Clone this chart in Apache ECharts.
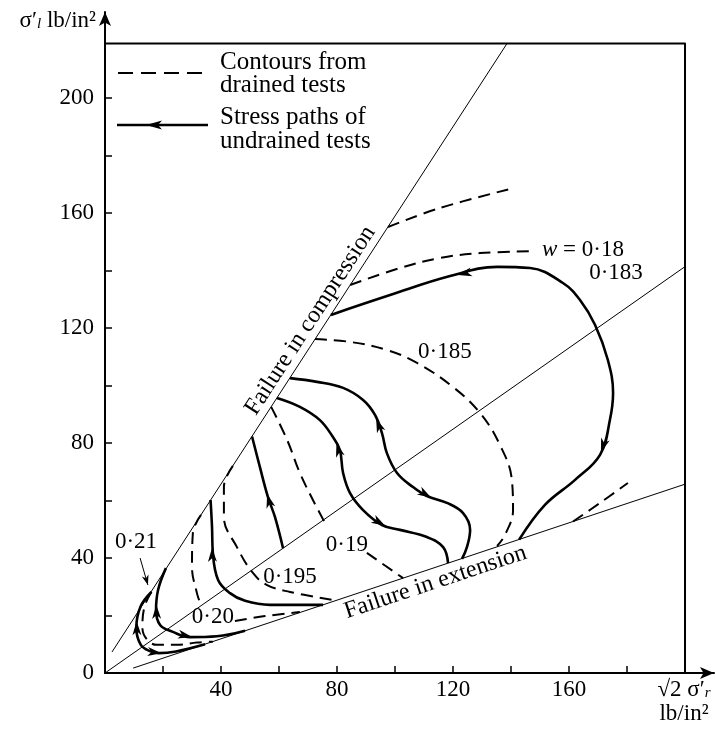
<!DOCTYPE html>
<html><head><meta charset="utf-8">
<script src="https://cdn.jsdelivr.net/npm/echarts@6.0.0/dist/echarts.min.js"></script>
<style>html,body{margin:0;padding:0;background:#fff}#c{width:715px;height:731px}</style>
</head><body><div id="c"></div>
<script>
const FONT = '"Liberation Serif","DejaVu Serif",serif';
// axis ticks and labels
const xTickValues = [20,40,60,80,100,120,140,160,180,200];
const xLabelValues = [40,80,120,160];
const yTickValues = [20,40,60,80,100,120,140,160,180,200];
const yLabelValues = [0,40,80,120,160,200];
// frame and failure / isotropic lines
const frameLine = [[0,219],[200,219],[200,0]];
const compressionLine = [[2.4,7.3],[138.6,219]];
const isotropicLine = [[0,0],[200,141.4]];
const extensionLine = [[9.7,1.7],[200,65.7]];
// dashed contours from drained tests
const contourTop = [[97.6,155.2],[115.5,161.8],[139.7,168.4]];
const contour018 = [[84.5,135.0],[101.7,140.9],[115.5,144.4],[129.3,146.1],[147.6,146.8]];
const contourRight = [[161.4,52.7],[170.7,59.2],[180.3,66.1]];
const contour0185 = [[72.4,116.2],[84.5,115.2],[97.2,112.4],[107.6,107.9],[120.0,99.5],[129.3,90.5],[136.2,79.3],[140.3,67.2],[140.7,56.7],[137.9,48.0],[135.2,44.2]];
const contour019a = [[57.3,92.6],[62.8,81.1],[67.2,69.6],[71.7,60.2],[76.6,50.8]];
const contour019b = [[90.3,41.8],[102.8,33.0]];
const contour0195 = [[44.1,72.1],[41.0,64.7],[41.0,54.3],[45.5,43.8],[51.0,34.8],[55.9,30.6],[63.8,28.2],[78.6,25.4]];
const contour020a = [[33.1,55.0],[30.3,48.7],[30.0,36.9],[31.7,27.8],[32.8,24.4]];
const contour020b = [[44.8,18.1],[55.2,19.8],[67.2,21.2]];
const contour021 = [[16.0,28.2],[13.6,23.0],[12.9,15.7],[14.6,11.5],[17.9,9.8],[24.8,9.8],[31.7,10.6],[37.2,10.9]];
// solid stress paths of undrained tests
const path0183 = [[77.9,124.6],[98.3,131.5],[119.0,138.1],[135.2,141.3],[146.6,140.9],[157.9,135.7],[163.8,129.8],[169.0,121.1],[173.4,108.9],[175.2,97.4],[174.1,88.0],[170.7,75.9],[162.1,67.2],[151.7,58.5],[142.8,46.4]];
const pathA = [[63.8,102.6],[73.1,101.3],[82.1,99.2],[89.0,95.0],[93.1,89.8],[95.5,83.5],[97.2,76.5],[100.7,69.6],[106.2,64.7],[111.0,61.6],[117.9,59.2],[123.4,55.7],[125.9,49.8],[124.8,43.8],[123.1,39.7]];
const pathB = [[59.3,95.7],[67.2,92.6],[74.1,88.0],[78.6,82.1],[81.0,77.6],[82.1,69.6],[84.5,62.6],[89.0,56.7],[95.5,51.5],[101.7,49.8],[111.0,47.3],[116.6,43.8],[118.3,38.2]];
const pathC = [[50.7,82.3],[53.4,71.7],[56.2,61.2],[58.6,54.3],[61.4,43.4]];
const pathS3 = [[36.4,60.2],[36.9,50.8],[37.2,41.8],[39.0,32.4],[43.1,27.8],[48.3,25.1],[56.9,23.7],[75.2,23.7]];
const pathS2 = [[21.0,36.5],[18.3,28.9],[17.6,21.9],[19.0,16.7],[23.4,14.3],[29.3,12.5],[38.6,12.8],[48.3,14.7]];
const pathS1 = [[16.0,28.2],[12.2,23.0],[10.8,15.7],[12.3,9.9],[15.5,7.6],[18.5,6.9],[24.5,7.5],[34.5,10.0]];
// arrowheads on the paths: [tipX, tipY, tailX, tailY]
const pathArrows = [
  [121.7,138.5,127.6,139.9],[171.0,76.8,173.6,84.5],
  [93.5,88.5,95.3,83.8],[112.5,61.0,106.5,64.5],
  [79.8,80.0,81.4,74.5],[96.6,51.2,91.0,54.5],
  [55.9,62.3,57.5,56.5],[36.9,43.5,37.1,37.0],
  [17.7,23.7,17.8,18.5],[30.0,12.5,25.0,13.6],
  [10.9,18.0,11.0,13.5],[19.5,6.9,16.0,7.3]
];
// pointer from the 0·21 label
const pointerLine = [[12.1,40.0],[14.8,30.6]];
const pointerArrows = [[14.8,30.6,12.1,40.0]];
// value labels
const labelTexts = ['0·21','0·20','0·195','0·19','0·185','{i|w} = 0·18','0·183'];
const labelPos = [[10.7,45.6],[37.2,19.5],[63.8,33.4],[83.4,44.5],[117.2,111.7],[164.8,147.2],[176.2,139.2]];
// failure line captions: text, anchor on the line
const failureTexts = ['Failure in compression','Failure in extension'];
const failureAnchors = [[74.9,120.0],[112.4,36.2]];
const failureLines = [compressionLine, extensionLine];
const failureSide = [1,-1];

const chart = echarts.init(document.getElementById('c'));
const K = '#000';
function ln(data, width, dashed, smooth){
  return {type:'line', data, symbol:'none', silent:true, animation:false, smooth: smooth || false, z:3,
    lineStyle:{color:K, width, type: dashed ? [12,7] : 'solid', cap:'butt', join:'round'}};
}
function arrowRender(L, W){
  return function(p, api){
    const tip = api.coord([api.value(0), api.value(1)]);
    const tail = api.coord([api.value(2), api.value(3)]);
    let dx = tip[0]-tail[0], dy = tip[1]-tail[1];
    const d = Math.hypot(dx, dy) || 1; dx/=d; dy/=d;
    const nx = -dy, ny = dx;
    const bx = tip[0]-dx*L, by = tip[1]-dy*L;
    const mx = tip[0]-dx*L*0.72, my = tip[1]-dy*L*0.72;
    return {type:'polygon', shape:{points:[tip,[bx+nx*W,by+ny*W],[mx,my],[bx-nx*W,by-ny*W]]}, style:{fill:K}};
  };
}
const series = [
  ln(frameLine, 2, false),
  ln(compressionLine, 1, false),
  ln(isotropicLine, 1, false),
  ln(extensionLine, 1, false),
  ln(contourTop, 2, true, 0.4),
  ln(contour018, 2, true, 0.4),
  ln(contourRight, 2, true, 0.4),
  ln(contour0185, 2, true, 0.4),
  ln(contour019a, 2, true, 0.4),
  ln(contour019b, 2, true, 0.4),
  ln(contour0195, 2, true, 0.4),
  ln(contour020a, 2, true, 0.4),
  ln(contour020b, 2, true, 0.4),
  ln(contour021, 2, true, 0.4),
  ln(path0183, 2.6, false, 0.4),
  ln(pathA, 2.6, false, 0.4),
  ln(pathB, 2.6, false, 0.4),
  ln(pathC, 2.6, false, 0.4),
  ln(pathS3, 2.6, false, 0.4),
  ln(pathS2, 2.6, false, 0.4),
  ln(pathS1, 2.6, false, 0.4),
  ln(pointerLine, 1, false),
  {type:'custom', data:pathArrows, encode:{x:[0,2], y:[1,3]}, renderItem: arrowRender(14, 4.5), silent:true, animation:false, z:6},
  {type:'custom', data:pointerArrows, encode:{x:[0,2], y:[1,3]}, renderItem: arrowRender(10, 3.5), silent:true, animation:false, z:6},
  {type:'custom', data:labelPos, encode:{x:0, y:1}, silent:true, animation:false, z:7,
    renderItem:(p, api)=>{
      const c = api.coord([api.value(0), api.value(1)]);
      return {type:'text', x:c[0], y:c[1], style:{text: labelTexts[p.dataIndex], fill:K, fontSize:23, fontFamily:FONT,
        align:'center', verticalAlign:'middle', rich:{i:{fontStyle:'italic', fontSize:23, fontFamily:FONT}}}};
    }},
  {type:'custom', data:failureAnchors, encode:{x:0, y:1}, silent:true, animation:false, z:7,
    renderItem:(p, api)=>{
      const i = p.dataIndex;
      const l = failureLines[i];
      const a = api.coord(l[0]), b = api.coord(l[1]);
      let dx = b[0]-a[0], dy = b[1]-a[1]; const d = Math.hypot(dx,dy); dx/=d; dy/=d;
      const c = api.coord([api.value(0), api.value(1)]);
      const off = 14 * failureSide[i];
      const x = c[0] + dy*off, y = c[1] - dx*off;
      return {type:'text', x, y, rotation: -Math.atan2(dy, dx),
        style:{text: failureTexts[i], fill:K, fontSize:24, fontFamily:FONT, align:'center', verticalAlign:'middle'}};
    }}
];
const axisCommon = {
  type:'value', splitLine:{show:false},
  axisLine:{show:true, onZero:false, symbol:['none','arrow'], symbolSize:[9,14], lineStyle:{color:K, width:2}},
  axisTick:{show:true, inside:true, length:7, lineStyle:{color:K, width:1.5}},
  axisLabel:{color:K, fontSize:23, fontFamily:FONT}
};
chart.setOption({
  animation:false,
  backgroundColor:'#fff',
  grid:{left:105, right:1, top:12, bottom:58, containLabel:false},
  xAxis: Object.assign({}, axisCommon, {min:0, max:210,
    axisTick: Object.assign({}, axisCommon.axisTick, {customValues:xTickValues}),
    axisLabel: Object.assign({}, axisCommon.axisLabel, {customValues:xLabelValues, margin:5})}),
  yAxis: Object.assign({}, axisCommon, {min:0, max:230,
    axisTick: Object.assign({}, axisCommon.axisTick, {customValues:yTickValues}),
    axisLabel: Object.assign({}, axisCommon.axisLabel, {customValues:yLabelValues, margin:11})}),
  series,
  graphic:[
    {type:'line', shape:{x1:118,y1:73,x2:208,y2:73}, style:{stroke:K, lineWidth:2, lineDash:[15,8]}},
    {type:'line', shape:{x1:117,y1:125,x2:208,y2:125}, style:{stroke:K, lineWidth:2.5}},
    {type:'polygon', shape:{points:[[146,125],[162,120.5],[158,125],[162,129.5]]}, style:{fill:K}},
    {type:'text', x:220, y:62, style:{text:'Contours from', fill:K, fontSize:25, fontFamily:FONT, verticalAlign:'middle'}},
    {type:'text', x:220, y:85, style:{text:'drained tests', fill:K, fontSize:25, fontFamily:FONT, verticalAlign:'middle'}},
    {type:'text', x:220, y:117, style:{text:'Stress paths of', fill:K, fontSize:25, fontFamily:FONT, verticalAlign:'middle'}},
    {type:'text', x:220, y:141, style:{text:'undrained tests', fill:K, fontSize:25, fontFamily:FONT, verticalAlign:'middle'}},
    {type:'text', x:96, y:19, style:{text:'{n|σ′}{s|l}{n| lb/in²}', fill:K, align:'right', verticalAlign:'middle',
      rich:{n:{fontSize:23, fontFamily:FONT, lineHeight:26, verticalAlign:'bottom'}, s:{fontSize:15, fontStyle:'italic', fontFamily:FONT, lineHeight:26, verticalAlign:'bottom'}}}},
    {type:'text', x:684, y:688, style:{text:'{n|√2 σ′}{s|r}', fill:K, align:'center', verticalAlign:'middle',
      rich:{n:{fontSize:23, fontFamily:FONT, lineHeight:26, verticalAlign:'bottom'}, s:{fontSize:15, fontStyle:'italic', fontFamily:FONT, lineHeight:26, verticalAlign:'bottom'}}}},
    {type:'text', x:684, y:714, style:{text:'lb/in²', fill:K, fontSize:23, fontFamily:FONT, align:'center', verticalAlign:'middle'}}
  ]
});
</script></body></html>
